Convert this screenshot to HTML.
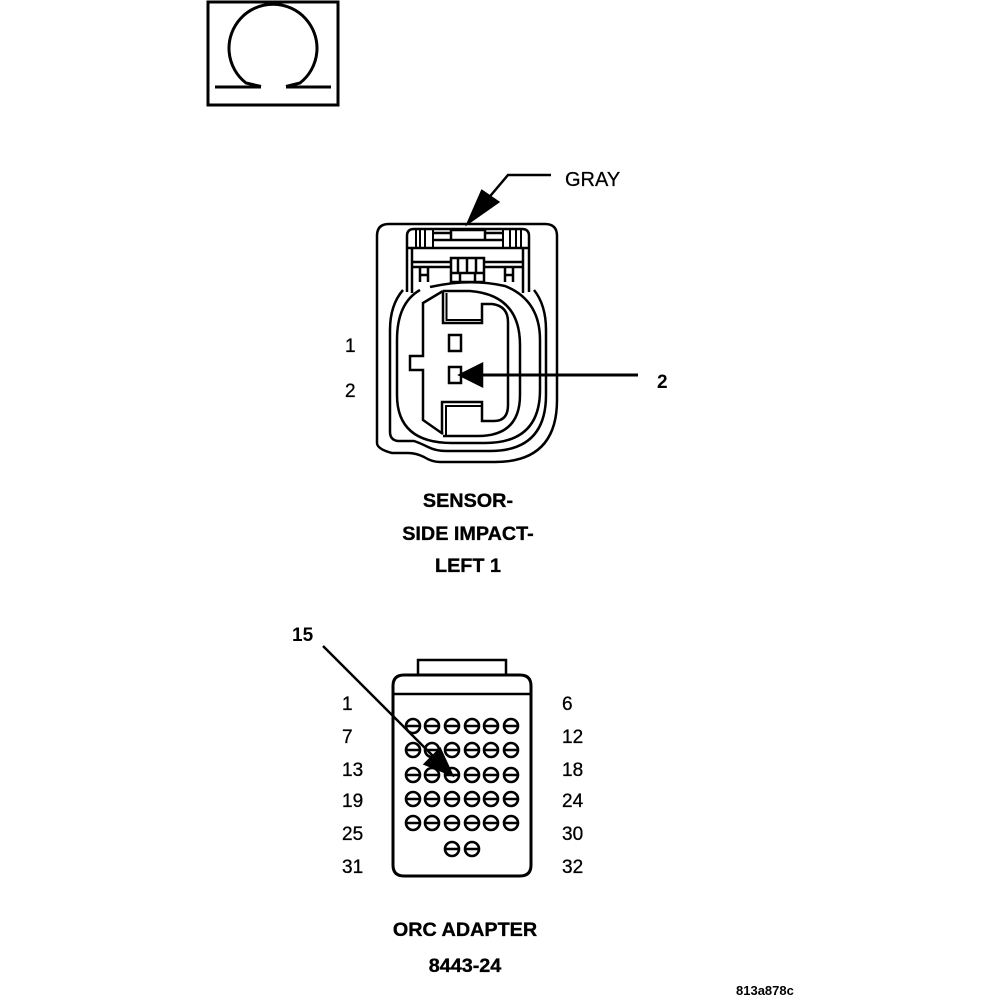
<!DOCTYPE html>
<html><head><meta charset="utf-8"><style>
html,body{margin:0;padding:0;background:#fff}
svg{display:block}
text{font-family:"Liberation Sans",sans-serif;fill:#000}
.b{font-weight:bold;font-size:19.8px;text-anchor:middle;stroke:#000;stroke-width:.35px}
.n{font-size:19px;stroke:#000;stroke-width:.3px}
</style></head><body>
<svg width="1008" height="1000" viewBox="0 0 1008 1000" xmlns="http://www.w3.org/2000/svg">
<g fill="none" stroke="#000" stroke-width="2.5">
<!-- omega -->
<rect x="208" y="2" width="130" height="103" stroke-width="3"/>
<path d="M261 86.5L246 83A44 44 0 1 1 300 83L286 86.5" stroke-width="3"/>
<path d="M215 87H261M286 87H331" stroke-width="3"/>
<!-- gray leader -->
<path d="M551 175H508L486 201"/>
<path d="M468 223L482 191L498 202Z" fill="#000"/>
<!-- connector 1 outer -->
<path d="M389 224H545Q557 224 557 236V400Q557 462 495 462H440Q432 462 424 457Q416 453 408 453H392Q377 449 377 443V236Q377 224 389 224Z"/>
<!-- seals -->
<path d="M403 290Q390 305 390 330V432Q390 440 398 441H414Q420 443 428 447Q436 451 446 451H490Q546 451 546 395V330Q546 305 534 290"/>
<path d="M420 290Q397 303 397 340V395Q397 443 452 443H485Q540 443 540 390V340Q540 300 505 286Q470 278 430 287"/>
<!-- inner body -->
<path d="M443 291L423 303V356H410V370H423V420L443 434"/>
<path d="M443 291H470Q520 295 520 345V395Q520 436 478 436H443"/>
<path d="M443 291V323H482V304H492Q508 306 508 322V405Q508 421 494 421H482V402H442V434"/>
<path d="M446.5 293V320H482M446 435V406H481" stroke-width="2"/>
<rect x="449" y="335" width="12" height="16"/>
<rect x="449" y="367" width="12" height="16"/>
<path d="M461 375H638" stroke-width="3"/>
<path d="M460 375L482 364V386Z" fill="#000"/>
<!-- latch -->
<path d="M407 292V236Q407 229 414 229H522Q529 229 529 236V292"/>
<path d="M412 293V248H523V293M407 248H529"/>
<path d="M416 229V248M420 229V248M425 229V248M433 229V248M503 229V248M510 229V248M516 229V248M521 229V248" stroke-width="2"/>
<path d="M433 233H451V230H485V233H503M433 240H451V233M485 233V240H503M451 240H485"/>
<path d="M412 262H451M484 262H523M412 267H451M484 267H523"/>
<rect x="451" y="258" width="33" height="24"/>
<path d="M458 258V273M467 258V273M476 258V273M451 273H484M460 273V282M475 273V282"/>
<path d="M420 268V282M428 268V282M420 275H428M505 268V282M513 268V282M505 275H513"/>
<!-- connector 2 -->
<path d="M418 675V660H506V675"/>
<path d="M404 675H520Q531 675 531 686V865Q531 876 520 876H404Q393 876 393 865V686Q393 675 404 675Z" stroke-width="3"/>
<path d="M393 694H531"/>
<g id="pins" stroke-width="2.6">
<circle cx="413" cy="726" r="7"/><circle cx="432" cy="726" r="7"/><circle cx="452" cy="726" r="7"/><circle cx="472" cy="726" r="7"/><circle cx="491" cy="726" r="7"/><circle cx="511" cy="726" r="7"/>
<circle cx="413" cy="750" r="7"/><circle cx="432" cy="750" r="7"/><circle cx="452" cy="750" r="7"/><circle cx="472" cy="750" r="7"/><circle cx="491" cy="750" r="7"/><circle cx="511" cy="750" r="7"/>
<circle cx="413" cy="775" r="7"/><circle cx="432" cy="775" r="7"/><circle cx="452" cy="775" r="7"/><circle cx="472" cy="775" r="7"/><circle cx="491" cy="775" r="7"/><circle cx="511" cy="775" r="7"/>
<circle cx="413" cy="799" r="7"/><circle cx="432" cy="799" r="7"/><circle cx="452" cy="799" r="7"/><circle cx="472" cy="799" r="7"/><circle cx="491" cy="799" r="7"/><circle cx="511" cy="799" r="7"/>
<circle cx="413" cy="823" r="7"/><circle cx="432" cy="823" r="7"/><circle cx="452" cy="823" r="7"/><circle cx="472" cy="823" r="7"/><circle cx="491" cy="823" r="7"/><circle cx="511" cy="823" r="7"/>
<circle cx="452" cy="849" r="7"/><circle cx="472" cy="849" r="7"/>
<path d="M407 726H419M426 726H438M446 726H458M466 726H478M485 726H497M505 726H517M407 750H419M426 750H438M446 750H458M466 750H478M485 750H497M505 750H517M407 775H419M426 775H438M446 775H458M466 775H478M485 775H497M505 775H517M407 799H419M426 799H438M446 799H458M466 799H478M485 799H497M505 799H517M407 823H419M426 823H438M446 823H458M466 823H478M485 823H497M505 823H517M446 849H458M466 849H478"/>
</g>
<path d="M323 646L435 758"/>
<path d="M452 775L425 764L440 749Z" fill="#000"/>
</g>
<text x="565" y="186" font-size="20" stroke="#000" stroke-width=".25">GRAY</text>
<text class="n" x="345" y="352">1</text>
<text class="n" x="345" y="397">2</text>
<text class="n" x="657" y="388" style="font-weight:bold;stroke-width:0">2</text>
<text class="b" x="468" y="507">SENSOR-</text>
<text class="b" x="468" y="540">SIDE IMPACT-</text>
<text class="b" x="468" y="572">LEFT 1</text>
<text class="n" x="292" y="641" style="font-weight:bold;stroke-width:0">15</text>
<text class="n" x="342" y="710">1</text>
<text class="n" x="342" y="743">7</text>
<text class="n" x="342" y="776">13</text>
<text class="n" x="342" y="807">19</text>
<text class="n" x="342" y="840">25</text>
<text class="n" x="342" y="873">31</text>
<text class="n" x="562" y="710">6</text>
<text class="n" x="562" y="743">12</text>
<text class="n" x="562" y="776">18</text>
<text class="n" x="562" y="807">24</text>
<text class="n" x="562" y="840">30</text>
<text class="n" x="562" y="873">32</text>
<text class="b" x="465" y="936">ORC ADAPTER</text>
<text class="b" x="465" y="972">8443-24</text>
<text x="736" y="995" font-size="13" font-weight="bold">813a878c</text>
</svg>
</body></html>
